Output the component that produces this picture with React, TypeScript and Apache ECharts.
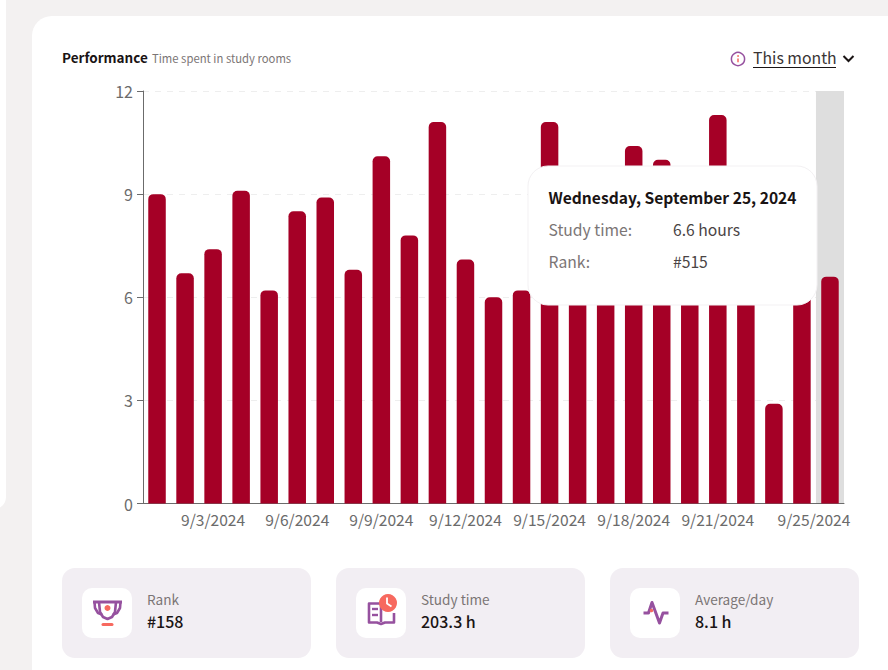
import React, { useEffect, useRef } from "react";
import * as echarts from "echarts";

const FONT = '"Noto Sans CJK SC", "Noto Sans", sans-serif';

const days = [
  "9/1/2024", "9/2/2024", "9/3/2024", "9/4/2024", "9/5/2024", "9/6/2024", "9/7/2024", "9/8/2024", "9/9/2024",
  "9/10/2024", "9/11/2024", "9/12/2024", "9/13/2024", "9/14/2024", "9/15/2024", "9/16/2024", "9/17/2024",
  "9/18/2024", "9/19/2024", "9/20/2024", "9/21/2024", "9/22/2024", "9/23/2024", "9/24/2024", "9/25/2024",
];
const hours = [9.0, 6.7, 7.4, 9.1, 6.2, 8.5, 8.9, 6.8, 10.1, 7.8, 11.1, 7.1, 6.0, 6.2, 11.1, 7.9, 8.4, 10.4, 10.0, 8.2, 11.3, 8.8, 2.9, 6.8, 6.6];
const shownTicks = ["9/3/2024", "9/6/2024", "9/9/2024", "9/12/2024", "9/15/2024", "9/18/2024", "9/21/2024", "9/25/2024"];
const activeDay = "9/25/2024";
const tipTitle = "Wednesday, September 25, 2024";
const tipRows = [["Study time:", "6.6 hours"], ["Rank:", "#515"]];
const cards = [
  { label: "Rank", value: "#158" },
  { label: "Study time", value: "203.3 h" },
  { label: "Average/day", value: "8.1 h" },
];

const PURPLE = "#96519f";
const CORAL = "#f7695f";

const txt = (x: number, y: number, text: string, fill: string, fontSize: number, fontWeight: any = 400, extra: any = {}) => ({
  type: "text", x, y, z: 20,
  style: { text, fill, fontSize, fontWeight, fontFamily: FONT, textVerticalAlign: "middle", verticalAlign: "middle", ...extra },
});

function icons(): any[] {
  const s = (extra: any) => ({ stroke: PURPLE, lineWidth: 3, fill: "none", lineJoin: "round", ...extra });
  const trophy = { type: "group", x: 82, y: 588, z: 20, children: [
    { type: "polyline", z: 20, shape: { points: [[12.5, 14], [13, 20], [16, 25], [20, 26.5]] }, style: s({ lineWidth: 2.6 }) },
    { type: "polyline", z: 20, shape: { points: [[38.5, 14], [38, 20], [35, 25], [31, 26.5]] }, style: s({ lineWidth: 2.6 }) },
    { type: "polyline", z: 20, shape: { points: [[17, 14], [18, 24], [21, 29], [25.5, 31], [30, 29], [33, 24], [34, 14]] }, style: s({ lineWidth: 2.6 }) },
    { type: "line", z: 20, shape: { x1: 11, y1: 14, x2: 40, y2: 14 }, style: s({ lineWidth: 3 }) },
    { type: "circle", z: 21, shape: { cx: 25.5, cy: 20, r: 3 }, style: { fill: CORAL } },
    { type: "rect", z: 21, shape: { x: 19.5, y: 35, width: 12, height: 3, r: 1.5 }, style: { fill: CORAL } },
  ] };
  const book = { type: "group", x: 356, y: 588, z: 20, children: [
    { type: "polyline", z: 20, shape: { points: [[25, 15.5], [13, 15.5], [13, 34.5], [21, 34.5], [25, 36], [29, 34.5], [38, 34.5], [38, 25]] }, style: s({ lineWidth: 2.6 }) },
    { type: "line", z: 20, shape: { x1: 25, y1: 15, x2: 25, y2: 34 }, style: s({ lineWidth: 2.6 }) },
    { type: "line", z: 20, shape: { x1: 16, y1: 21, x2: 22, y2: 21 }, style: s({ lineWidth: 2.4 }) },
    { type: "line", z: 20, shape: { x1: 16, y1: 27, x2: 22, y2: 27 }, style: s({ lineWidth: 2.4 }) },
    { type: "circle", z: 21, shape: { cx: 32, cy: 15, r: 9 }, style: { fill: CORAL } },
    { type: "polyline", z: 22, shape: { points: [[31, 9.5], [31, 15.5], [35.5, 18.5]] }, style: { stroke: "#fff", lineWidth: 1.8, fill: "none" } },
  ] };
  const pulse = { type: "group", x: 630, y: 588, z: 20, children: [
    { type: "polyline", z: 20, shape: { points: [[13.5, 25], [18.5, 25], [22, 14.5], [29.5, 35], [33, 25], [38.5, 25]] }, style: s({}) },
    { type: "circle", z: 21, shape: { cx: 21.5, cy: 22.5, r: 1.8 }, style: { fill: CORAL } },
  ] };
  const info = { type: "group", x: 738, y: 59, z: 20, children: [
    { type: "circle", z: 20, shape: { cx: 0, cy: 0, r: 6.6 }, style: { stroke: PURPLE, lineWidth: 1.5, fill: "#fff" } },
    { type: "line", z: 21, shape: { x1: 0, y1: -0.5, x2: 0, y2: 3.2 }, style: { stroke: CORAL, lineWidth: 1.5 } },
    { type: "circle", z: 21, shape: { cx: 0, cy: -3, r: 0.9 }, style: { fill: CORAL } },
  ] };
  return [trophy, book, pulse, info];
}

export default function App() {
  const ref = useRef<HTMLDivElement>(null);
  useEffect(() => {
    document.body.style.margin = "0";
    const chart = echarts.init(ref.current!, undefined, { renderer: "svg" });
    const cardXs = [62, 336, 610];
    const elements: any[] = [
      { type: "rect", z: -10, shape: { x: -20, y: -20, width: 26, height: 529, r: 12 }, style: { fill: "#fff" } },
      { type: "rect", z: -10, shape: { x: 32, y: 16, width: 900, height: 700, r: 20 }, style: { fill: "#fff" } },
      txt(62, 57, "Performance", "#1a1414", 13.5, 700),
      txt(152, 57.5, "Time spent in study rooms", "#7b7575", 11.3),
      txt(753, 57, "This month", "#3a3434", 15.8),
      { type: "line", z: 20, shape: { x1: 753, y1: 67.5, x2: 836, y2: 67.5 }, style: { stroke: "#1a1414", lineWidth: 1 } },
      { type: "polyline", z: 20, shape: { points: [[843.5, 56], [848.5, 61], [853.5, 56]] }, style: { stroke: "#1a1414", lineWidth: 2, fill: "none" } },
      { type: "rect", z: 15, shape: { x: 528, y: 166, width: 289, height: 139, r: 20 }, style: { fill: "#fff", stroke: "#f3f1f3", lineWidth: 1 } },
      txt(548.5, 196.5, tipTitle, "#1a1414", 15.6, 700),
      ...tipRows.flatMap((row, i) => [
        txt(548.5, 229.5 + i * 32, row[0], "#7b7575", 15.7),
        txt(673, 229.5 + i * 32, row[1], "#4a4444", 15.7),
      ]),
      ...cards.flatMap((c, i) => [
        { type: "rect", z: 5, shape: { x: cardXs[i], y: 568, width: 249, height: 90, r: 13 }, style: { fill: "#f2eef3" } },
        { type: "rect", z: 6, shape: { x: cardXs[i] + 20, y: 588, width: 50, height: 50, r: 10 }, style: { fill: "#fff" } },
        txt(cardXs[i] + 85, 598.5, c.label, "#7b7575", 13.6),
        txt(cardXs[i] + 85, 621, c.value, "#1a1414", 16, 500),
      ]),
      ...icons(),
    ];
    chart.setOption({
      animation: false,
      backgroundColor: "#f3f1f1",
      textStyle: { fontFamily: FONT },
      grid: { left: 143, right: 44, top: 91, bottom: 166.5, containLabel: false },
      xAxis: {
        type: "category",
        data: days.map((d) => (d === activeDay ? { value: d, textStyle: { padding: [0, 32, 0, 0] } } : d)),
        axisLine: { lineStyle: { color: "#6b6b6b", width: 1 } },
        axisTick: { alignWithLabel: true, length: 7, lineStyle: { color: "#6b6b6b" }, interval: (_: number, v: string) => shownTicks.includes(v) },
        axisLabel: { color: "#6b6b6b", fontSize: 15.6, fontFamily: FONT, margin: 8, interval: (_: number, v: string) => shownTicks.includes(v), hideOverlap: false },
        axisPointer: { show: true, type: "shadow", value: activeDay, status: "show", z: 0, label: { show: false }, shadowStyle: { color: "#dedede", opacity: 1 } },
      },
      yAxis: {
        type: "value", min: 0, max: 12, interval: 3,
        axisLine: { show: true, lineStyle: { color: "#6b6b6b", width: 1 } },
        axisTick: { show: true, length: 6, lineStyle: { color: "#6b6b6b" } },
        axisLabel: { color: "#6b6b6b", fontSize: 16, fontFamily: FONT, margin: 10 },
        splitLine: { show: true, lineStyle: { color: "#eeeeee", type: [6, 6], width: 1 } },
      },
      series: [{
        type: "bar", data: hours, barWidth: 17.5,
        itemStyle: { color: "#a50026", borderRadius: [5, 5, 0, 0] },
      }],
      graphic: { elements },
    });
    return () => chart.dispose();
  }, []);
  return <div ref={ref} style={{ position: "fixed", left: 0, top: 0, width: 888, height: 670 }} />;
}
